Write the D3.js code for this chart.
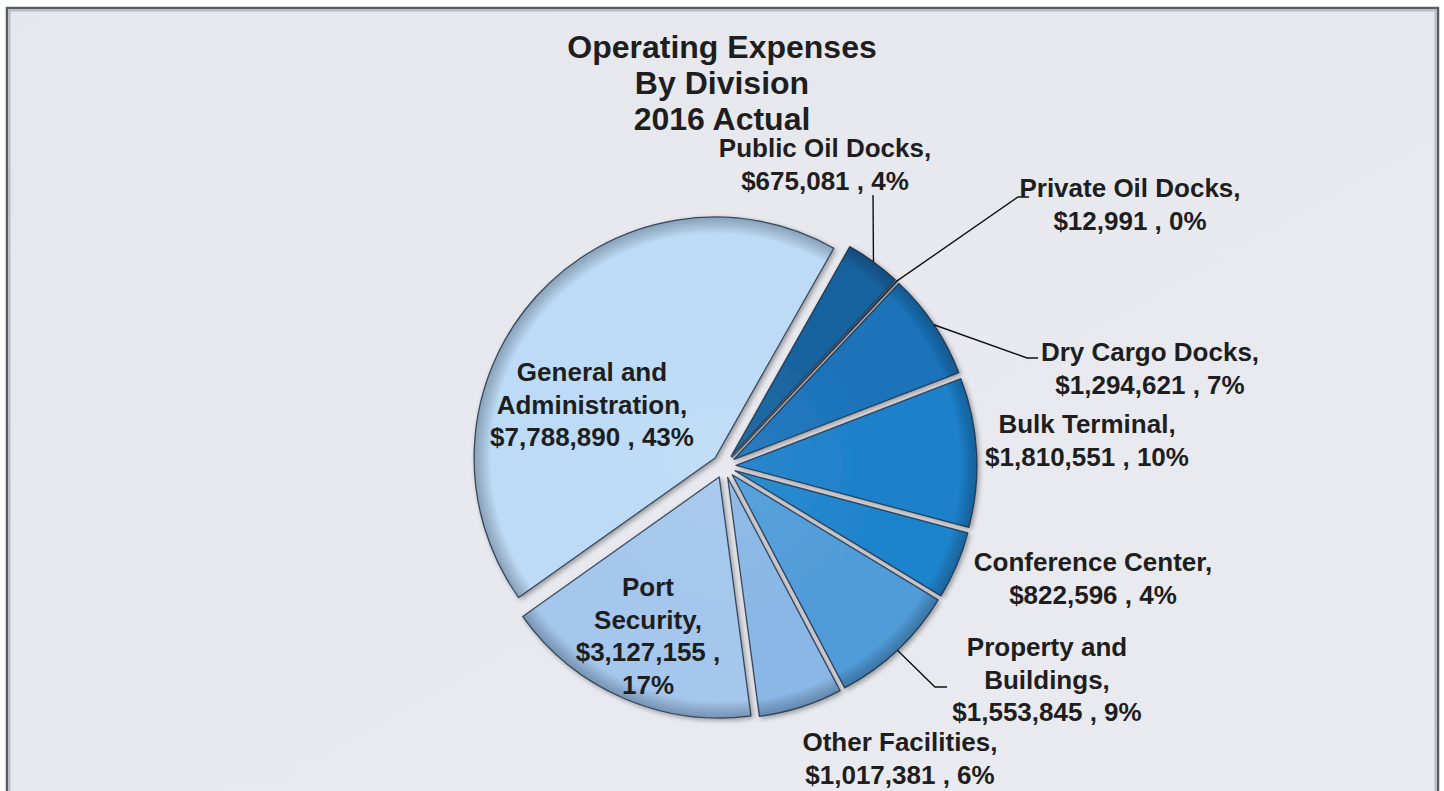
<!DOCTYPE html>
<html>
<head>
<meta charset="utf-8">
<script src="https://cdn.jsdelivr.net/npm/d3@7"></script>
<style>
  html, body { margin: 0; padding: 0; background: #ffffff; }
  svg { display: block; }
  text { font-family: "Liberation Sans", Arial, sans-serif; font-weight: bold; fill: #1e1e1e; }
</style>
</head>
<body>
<svg id="chart" width="1444" height="791"></svg>
<script>
// ---- Data ----
const titleLines = ["Operating Expenses", "By Division", "2016 Actual"];
const categories = ["Public Oil Docks", "Private Oil Docks", "Dry Cargo Docks", "Bulk Terminal",
  "Conference Center", "Property and Buildings", "Other Facilities", "Port Security",
  "General and Administration"];
const values = [675081, 12991, 1294621, 1810551, 822596, 1553845, 1017381, 3127155, 7788890];
const percentLabels = ["4%", "0%", "7%", "10%", "4%", "9%", "6%", "17%", "43%"];
const labelLines = [
  ["Public Oil Docks,", "$675,081 , 4%"],
  ["Private Oil Docks,", "$12,991 , 0%"],
  ["Dry Cargo Docks,", "$1,294,621 , 7%"],
  ["Bulk Terminal,", "$1,810,551 , 10%"],
  ["Conference Center,", "$822,596 , 4%"],
  ["Property and", "Buildings,", "$1,553,845 , 9%"],
  ["Other Facilities,", "$1,017,381 , 6%"],
  ["Port", "Security,", "$3,127,155 ,", "17%"],
  ["General and", "Administration,", "$7,788,890 , 43%"]
];
const baseColors = ["#155e98", "#14588c", "#1a6eb2", "#1b7bc2", "#1e7ec3", "#4d95d0", "#84afdb", "#9ebfe3", "#b5d2ec"];

// ---- Layout (positions / styles) ----
const W = 1444, H = 791;
const cx = 724, cy = 466, R = 241, explode = 12;
const startDeg = 29.5;
const labelPos = [
  {x: 825, y: 157}, {x: 1130, y: 197}, {x: 1150, y: 361}, {x: 1087, y: 433},
  {x: 1093, y: 571}, {x: 1047, y: 656}, {x: 900, y: 751}, {x: 648, y: 596}, {x: 592, y: 381}
];
const leaders = { // index -> elbow and end points
  0: [[873, 195]],
  1: [[1018, 197], [1029, 197]],
  2: [[1027, 358], [1038, 358]],
  5: [[935, 687], [947, 687]]
};
const lineGap = 32.5;

const svg = d3.select("#chart");
const defs = svg.append("defs");

// background + frame
const bgGrad = defs.append("linearGradient").attr("id", "bg").attr("x1", 0).attr("y1", 0).attr("x2", 1).attr("y2", 1);
bgGrad.append("stop").attr("offset", 0).attr("stop-color", "#e6e7ee");
bgGrad.append("stop").attr("offset", 1).attr("stop-color", "#eaebf0");
svg.append("rect").attr("x", 0).attr("y", 0).attr("width", W).attr("height", H).attr("fill", "#ffffff");
svg.append("rect").attr("x", 7).attr("y", 8).attr("width", 1431).attr("height", 800)
  .attr("fill", "url(#bg)").attr("stroke", "#5a5c62").attr("stroke-width", 2.5);
svg.append("rect").attr("x", 9.5).attr("y", 10.5).attr("width", 1426).attr("height", 795)
  .attr("fill", "none").attr("stroke", "#b9bbc3").attr("stroke-width", 2);

// title
svg.append("g").selectAll("text").data(titleLines).join("text")
  .attr("x", 722).attr("y", (d, i) => 58 + i * 36)
  .attr("text-anchor", "middle").attr("font-size", 32).text(d => d);

// pie
const toRad = Math.PI / 180;
const pie = d3.pie().sort(null).value(d => d)
  .startAngle(startDeg * toRad).endAngle(startDeg * toRad + 2 * Math.PI);
const arcs = pie(values);
const arc = d3.arc().innerRadius(0).outerRadius(R);

// filter for soft shadow
const f = defs.append("filter").attr("id", "shadow").attr("x", "-20%").attr("y", "-20%").attr("width", "140%").attr("height", "140%");
f.append("feGaussianBlur").attr("in", "SourceAlpha").attr("stdDeviation", 2.5).attr("result", "b");
f.append("feOffset").attr("in", "b").attr("dx", 1.5).attr("dy", 2).attr("result", "o");
f.append("feComponentTransfer").attr("in", "o").attr("result", "o2")
  .append("feFuncA").attr("type", "linear").attr("slope", 0.35);
const fm = f.append("feMerge");
fm.append("feMergeNode").attr("in", "o2");
fm.append("feMergeNode").attr("in", "SourceGraphic");

// gradients per slice
arcs.forEach((a, i) => {
  const c = d3.color(baseColors[i]);
  const lg = defs.append("linearGradient").attr("id", "lg" + i)
    .attr("gradientUnits", "userSpaceOnUse").attr("x1", 0).attr("y1", cy - R).attr("x2", 0).attr("y2", cy + R);
  lg.append("stop").attr("offset", 0).attr("stop-color", c.brighter(0.12));
  lg.append("stop").attr("offset", 0.5).attr("stop-color", c);
  lg.append("stop").attr("offset", 1).attr("stop-color", c.darker(0.25));
});
const rg = defs.append("radialGradient").attr("id", "edge")
  .attr("gradientUnits", "userSpaceOnUse").attr("cx", 0).attr("cy", 0).attr("r", R);
rg.append("stop").attr("offset", 0).attr("stop-color", "#ffffff").attr("stop-opacity", 0.06);
rg.append("stop").attr("offset", 0.6).attr("stop-color", "#ffffff").attr("stop-opacity", 0.0);
rg.append("stop").attr("offset", 0.93).attr("stop-color", "#000000").attr("stop-opacity", 0.0);
rg.append("stop").attr("offset", 1).attr("stop-color", "#0b1a2e").attr("stop-opacity", 0.3);

function offsetOf(a) {
  const m = (a.startAngle + a.endAngle) / 2;
  return [Math.sin(m) * explode, -Math.cos(m) * explode];
}

const gPie = svg.append("g").attr("transform", `translate(${cx},${cy})`);
const slices = gPie.selectAll("g.slice").data(arcs).join("g").attr("class", "slice")
  .attr("transform", d => { const o = offsetOf(d); return `translate(${o[0]},${o[1]})`; })
  .attr("filter", "url(#shadow)");
slices.append("path").attr("d", arc)
  .attr("fill", (d, i) => `url(#lg${i})`);
slices.append("path").attr("d", arc)
  .attr("fill", "url(#edge)")
  .attr("stroke", "#1d2c40").attr("stroke-width", 1.3).attr("stroke-opacity", 0.8)
  .attr("stroke-linejoin", "round");

// leader lines
Object.keys(leaders).forEach(k => {
  const i = +k, a = arcs[i];
  const m = (a.startAngle + a.endAngle) / 2;
  const o = offsetOf(a);
  const p0 = [cx + o[0] + Math.sin(m) * R, cy + o[1] - Math.cos(m) * R];
  const pts = [p0].concat(leaders[k]);
  svg.append("path").attr("d", d3.line()(pts)).attr("fill", "none")
    .attr("stroke", "#111").attr("stroke-width", 1.4);
});

// labels
const gLab = svg.append("g");
labelLines.forEach((lines, i) => {
  const t = gLab.append("text").attr("text-anchor", "middle").attr("font-size", 26);
  lines.forEach((ln, j) => {
    t.append("tspan").attr("x", labelPos[i].x).attr("y", labelPos[i].y + j * lineGap).text(ln);
  });
});
</script>
</body>
</html>
